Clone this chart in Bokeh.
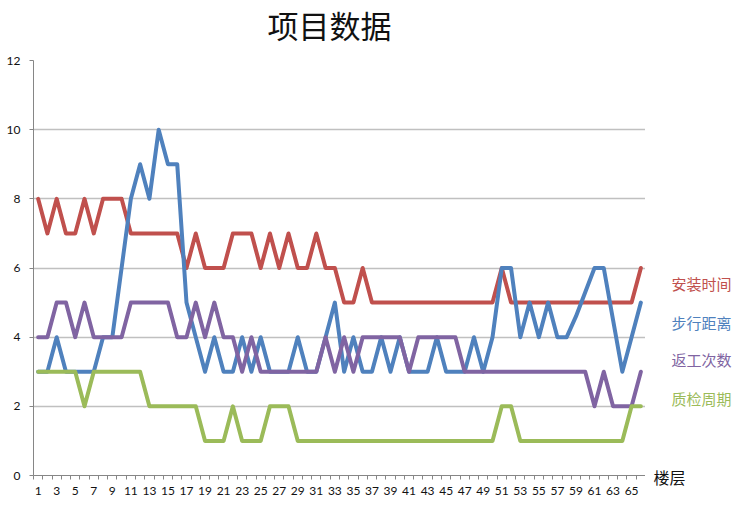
from bokeh.plotting import figure
from bokeh.models import Range1d, FixedTicker, Label, ColumnDataSource
from bokeh.layouts import row, column
from bokeh.embed import file_html
from bokeh.resources import INLINE

floors = list(range(1, 67))
series_names = ["安装时间", "步行距离", "返工次数", "质检周期"]
install_time = [8, 7, 8, 7, 7, 8, 7, 8, 8, 8,
                7, 7, 7, 7, 7, 7, 6, 7, 6, 6,
                6, 7, 7, 7, 6, 7, 6, 7, 6, 6,
                7, 6, 6, 5, 5, 6, 5, 5, 5, 5,
                5, 5, 5, 5, 5, 5, 5, 5, 5, 5,
                6, 5, 5, 5, 5, 5, 5, 5, 5, 5,
                5, 5, 5, 5, 5, 6]
walk_distance = [3, 3, 4, 3, 3, 3, 3, 4, 4, 6,
                 8, 9, 8, 10, 9, 9, 5, 4, 3, 4,
                 3, 3, 4, 3, 4, 3, 3, 3, 4, 3,
                 3, 4, 5, 3, 4, 3, 3, 4, 3, 4,
                 3, 3, 3, 4, 3, 3, 3, 4, 3, 4,
                 6, 6, 4, 5, 4, 5, 4, 4, 4.6, 5.3,
                 6, 6, 4.5, 3, 4, 5]
rework_count = [4, 4, 5, 5, 4, 5, 4, 4, 4, 4,
                5, 5, 5, 5, 5, 4, 4, 5, 4, 5,
                4, 4, 3, 4, 3, 3, 3, 3, 3, 3,
                3, 4, 3, 4, 3, 4, 4, 4, 4, 4,
                3, 4, 4, 4, 4, 4, 3, 3, 3, 3,
                3, 3, 3, 3, 3, 3, 3, 3, 3, 3,
                2, 3, 2, 2, 2, 3]
qc_cycle = [3, 3, 3, 3, 3, 2, 3, 3, 3, 3,
            3, 3, 2, 2, 2, 2, 2, 2, 1, 1,
            1, 2, 1, 1, 1, 2, 2, 2, 1, 1,
            1, 1, 1, 1, 1, 1, 1, 1, 1, 1,
            1, 1, 1, 1, 1, 1, 1, 1, 1, 1,
            2, 2, 1, 1, 1, 1, 1, 1, 1, 1,
            1, 1, 1, 1, 2, 2]
x_tick_labels = [1, 3, 5, 7, 9, 11, 13, 15, 17, 19, 21, 23, 25, 27, 29, 31, 33,
                 35, 37, 39, 41, 43, 45, 47, 49, 51, 53, 55, 57, 59, 61, 63, 65]
y_ticks = [0, 2, 4, 6, 8, 10, 12]
colors = ["#C0504D", "#4F81BD", "#8064A2", "#9BBB59"]

source = ColumnDataSource(dict(x=floors, s0=install_time, s1=walk_distance,
                               s2=rework_count, s3=qc_cycle))

cjk = "Noto Sans CJK SC"
tick_font = "Lato"

# title strip (its frame covers the whole strip)
t = figure(width=740, height=50, output_backend="svg", toolbar_location=None,
           x_range=Range1d(0, 740), y_range=Range1d(50, 0),
           min_border_left=0, min_border_right=0, min_border_top=0,
           min_border_bottom=0)
t.outline_line_color = None
t.axis.visible = False
t.grid.visible = False
t.add_layout(Label(x=329, y=23.5, text="项目数据", text_color="#111111", text_font=cjk,
                   text_font_size="31px", text_baseline="middle", text_align="center"))

p = figure(width=645, height=459, output_backend="svg", toolbar_location=None,
           x_range=Range1d(0.5, len(floors) + 0.5), y_range=Range1d(0, 12),
           min_border_left=33, min_border_right=0, min_border_top=10,
           min_border_bottom=34)
p.outline_line_color = None

for i, c in enumerate(colors):
    p.line("x", "s%d" % i, source=source, line_color=c, line_width=4,
           line_join="round", line_cap="round")

p.xaxis.ticker = FixedTicker(ticks=x_tick_labels,
                             minor_ticks=[f - 0.5 for f in floors] + [len(floors) + 0.5])
p.xaxis.major_tick_out = 0
p.xaxis.major_tick_in = 0
p.xaxis.minor_tick_out = 4
p.xaxis.minor_tick_in = 0
p.xaxis.minor_tick_line_color = "#868686"
p.xaxis.axis_line_color = "#868686"
p.xaxis.major_label_standoff = 7
p.xaxis.major_label_text_font = tick_font
p.xaxis.major_label_text_font_size = "12px"
p.xaxis.major_label_text_color = "#111111"
p.xgrid.visible = False

p.yaxis.ticker = FixedTicker(ticks=y_ticks, minor_ticks=[])
p.yaxis.major_tick_out = 4
p.yaxis.major_tick_in = 0
p.yaxis.major_tick_line_color = "#868686"
p.yaxis.axis_line_color = "#868686"
p.yaxis.major_label_standoff = 9
p.yaxis.major_label_text_font = tick_font
p.yaxis.major_label_text_font_size = "12px"
p.yaxis.major_label_text_color = "#111111"
p.ygrid.grid_line_color = "#C0C0C0"
p.ygrid.grid_line_width = 1.5

# side panel for the legend texts and the axis name (its frame is aligned with p's)
s = figure(width=95, height=459, output_backend="svg", toolbar_location=None,
           x_range=Range1d(669, 740), y_range=Range1d(475, 60),
           min_border_left=24, min_border_right=0,
           min_border_top=10, min_border_bottom=34)
s.outline_line_color = None
s.yaxis.visible = False
s.grid.visible = False
s.xaxis.ticker = FixedTicker(ticks=[], minor_ticks=[])
s.xaxis.axis_line_color = None
s.xaxis.major_tick_line_color = None
s.xaxis.minor_tick_line_color = None
s.xaxis.major_label_text_alpha = 0
s.xaxis.axis_label = "楼层"
s.xaxis.axis_label_text_font = cjk
s.xaxis.axis_label_text_font_size = "16px"
s.xaxis.axis_label_text_font_style = "normal"
s.xaxis.axis_label_text_color = "#111111"
s.xaxis.axis_label_standoff = -11
ax = s.xaxis[0]
if "axis_label_align" in ax.properties():
    ax.axis_label_align = "start"

legend_x = 671
legend_y = [283, 322, 359, 398]
for name, c, yy in zip(series_names, colors, legend_y):
    s.add_layout(Label(x=legend_x, y=yy, text=name, text_color=c, text_font=cjk,
                       text_font_size="15px", text_baseline="middle",
                       text_align="left"))

layout = column(t, row(p, s))
open("out.html", "w").write(file_html(layout, INLINE))
